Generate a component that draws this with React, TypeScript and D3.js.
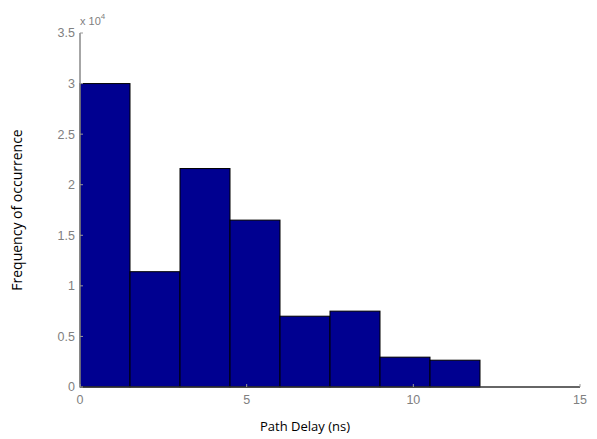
import * as React from 'react';
import * as d3 from 'd3';

// histogram bins (ns) and counts
const binEdges = [0, 1.5, 3, 4.5, 6, 7.5, 9, 10.5, 12, 13.5, 15];
const counts = [30000, 11400, 21600, 16500, 7000, 7500, 2950, 2650, 0, 0];
const xTicks = [0, 5, 10, 15];
const yTicks = [0, 5000, 10000, 15000, 20000, 25000, 30000, 35000];

const width = 597;
const height = 439;
const marginLeft = 80;
const marginRight = 17;
const marginTop = 33;
const marginBottom = 52;

const App: React.FC = () => {
  const x = d3.scaleLinear().domain([0, 15]).range([marginLeft, width - marginRight]);
  const y = d3.scaleLinear().domain([0, 35000]).range([height - marginBottom, marginTop]);
  const fmt = (v: number) => d3.format('~g')(v / 1e4);

  return (
    <svg
      width={width}
      height={height}
      style={{ position: 'absolute', left: 0, top: 0, background: '#fff' }}
      fontFamily="'Liberation Sans', Arial, sans-serif"
    >
      <g fill="#000090" stroke="#000" strokeWidth={1}>
        {counts.map((c, i) => (
          <rect
            key={i}
            x={x(binEdges[i])}
            y={y(c)}
            width={x(binEdges[i + 1]) - x(binEdges[i])}
            height={y(0) - y(c)}
          />
        ))}
      </g>
      {/* axes */}
      <line x1={x(0)} x2={x(0)} y1={y(0)} y2={y(35000)} stroke="#888" strokeWidth={1.5} />
      <line x1={x(0)} x2={x(15)} y1={y(0)} y2={y(0)} stroke="#333" strokeWidth={1.5} />
      <g fontSize={12.5} fill="#808080">
        {yTicks.map((t) => (
          <g key={t}>
            <line x1={x(0)} x2={x(0) + 3} y1={y(t)} y2={y(t)} stroke="#999" />
            <text x={x(0) - 5} y={y(t)} dy="0.35em" textAnchor="end">
              {fmt(t)}
            </text>
          </g>
        ))}
        {xTicks.map((t) => (
          <g key={t}>
            <line x1={x(t)} x2={x(t)} y1={y(0)} y2={y(0) - 3} stroke="#999" />
            <text x={x(t)} y={y(0) + 17} textAnchor="middle">
              {t}
            </text>
          </g>
        ))}
        <text x={x(0)} y={y(35000) - 8} fontSize={11}>
          x 10
          <tspan dy={-6} fontSize={8}>4</tspan>
        </text>
      </g>
      <text
        transform={`translate(22,${(y(0) + y(35000)) / 2}) rotate(-90)`}
        textAnchor="middle"
        fontSize={14}
        fontFamily="'Open Sans', sans-serif"
        fill="#000"
      >
        Frequency of occurrence
      </text>
      <text
        x={305}
        y={431}
        textAnchor="middle"
        fontSize={13}
        fontFamily="'Open Sans', sans-serif"
        fill="#000"
      >
        Path Delay (ns)
      </text>
    </svg>
  );
};

export default App;
